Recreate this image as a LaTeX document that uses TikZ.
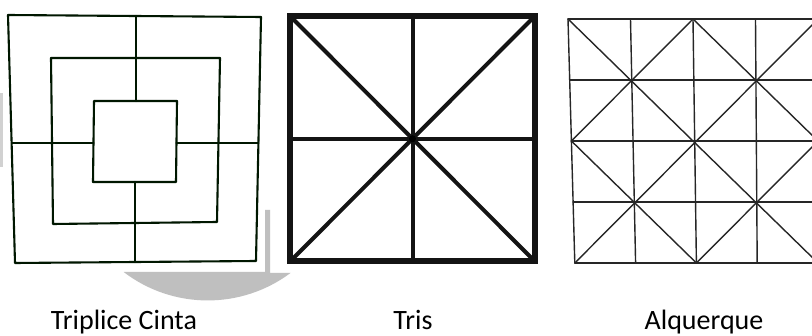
\documentclass[tikz,border=0pt]{standalone}
\usepackage{fontspec}
\setmainfont{Carlito}
\begin{document}
\begin{tikzpicture}[x=1pt,y=-1pt,
  shade/.style={fill=black!25},
  faint/.style={fill=black!18},
  hand/.style={draw=black!85!green!60!black, line width=2.1pt, line join=round, line cap=round},
  bold/.style={draw=black!92, line width=4pt, line cap=round},
  boldframe/.style={draw=black!92, line width=6pt, line join=miter},
  grid/.style={draw=black!85, line width=1.4pt, line cap=round},
  caption/.style={font=\fontsize{28}{32}\selectfont, anchor=base}]
\useasboundingbox (0,0) rectangle (812,336);
\fill[white] (0,0) rectangle (812,336);

% grey background disc, mostly hidden behind the pictures
\fill[shade] (123.9,272) -- (265,272) -- (265,210) -- (270,210) -- (270,273) -- (290.5,273)
  arc[start angle=53.3, end angle=127.2, radius=138.5] -- cycle;
\fill[faint] (0,93) rectangle (2.5,167);

% ---------- Triplice Cinta ----------
\coordinate (o1) at (8,15);   \coordinate (o2) at (261,17);
\coordinate (o3) at (256,261); \coordinate (o4) at (15,263);
\coordinate (m1) at (51,58);  \coordinate (m2) at (220,58);
\coordinate (m3) at (217,222); \coordinate (m4) at (53,224);
\coordinate (i1) at (94,101); \coordinate (i2) at (177,101);
\coordinate (i3) at (176,182); \coordinate (i4) at (93,182);
\draw[hand] (o1) -- (o2) -- (o3) -- (o4) -- cycle;
\draw[hand] (m1) -- (m2) -- (m3) -- (m4) -- cycle;
\draw[hand] (i1) -- (i2) -- (i3) -- (i4) -- cycle;
\coordinate (tT) at (136,16);  \coordinate (tI) at (136,101);
\coordinate (bI) at (135,182); \coordinate (bO) at (135,262);
\coordinate (lO) at (12,143);  \coordinate (lI) at (93.5,143);
\coordinate (rI) at (176.5,143); \coordinate (rO) at (258.5,143);
\draw[hand] (tT) -- (tI);
\draw[hand] (bI) -- (bO);
\draw[hand] (lO) -- (lI);
\draw[hand] (rI) -- (rO);

% ---------- Tris ----------
\coordinate (a1) at (290,16);  \coordinate (a2) at (535,16);
\coordinate (a3) at (535,261.5); \coordinate (a4) at (290,261.5);
\coordinate (ac) at (412.5,138.75);
\coordinate (aT) at (412.5,16); \coordinate (aB) at (412.5,261.5);
\coordinate (aL) at (290,138.75); \coordinate (aR) at (535,138.75);
\draw[bold] (a1) -- (a3);
\draw[bold] (a2) -- (a4);
\draw[bold] (aT) -- (aB);
\draw[bold] (aL) -- (aR);
\draw[boldframe] (a1) rectangle (a3);
\fill[black] (ac) circle (3.5);

% ---------- Alquerque ----------
\begin{scope}
\clip (545,0) rectangle (812,300);
\foreach \i in {0,...,4}{
  \foreach \j in {0,...,4}{
    \coordinate (p\i\j) at ({568+62.5*\i+1.7*\j*(4-\i)/4},{19+61*\j});
  }
}
\foreach \j in {0,...,4}{ \draw[grid] (p0\j) -- (p4\j); }
\foreach \i in {0,...,4}{ \draw[grid] (p\i0) -- (p\i4); }
\draw[grid] (p00) -- (p44);
\draw[grid] (p40) -- (p04);
\draw[grid] (p20) -- (p02) -- (p24) -- (p42) -- cycle;
\end{scope}

% ---------- captions ----------
\node[caption] (c1) at (124,330) {Triplice Cinta};
\node[caption] (c2) at (413,330) {Tris};
\node[caption] (c3) at (704,330) {Alquerque};
\end{tikzpicture}
\end{document}
